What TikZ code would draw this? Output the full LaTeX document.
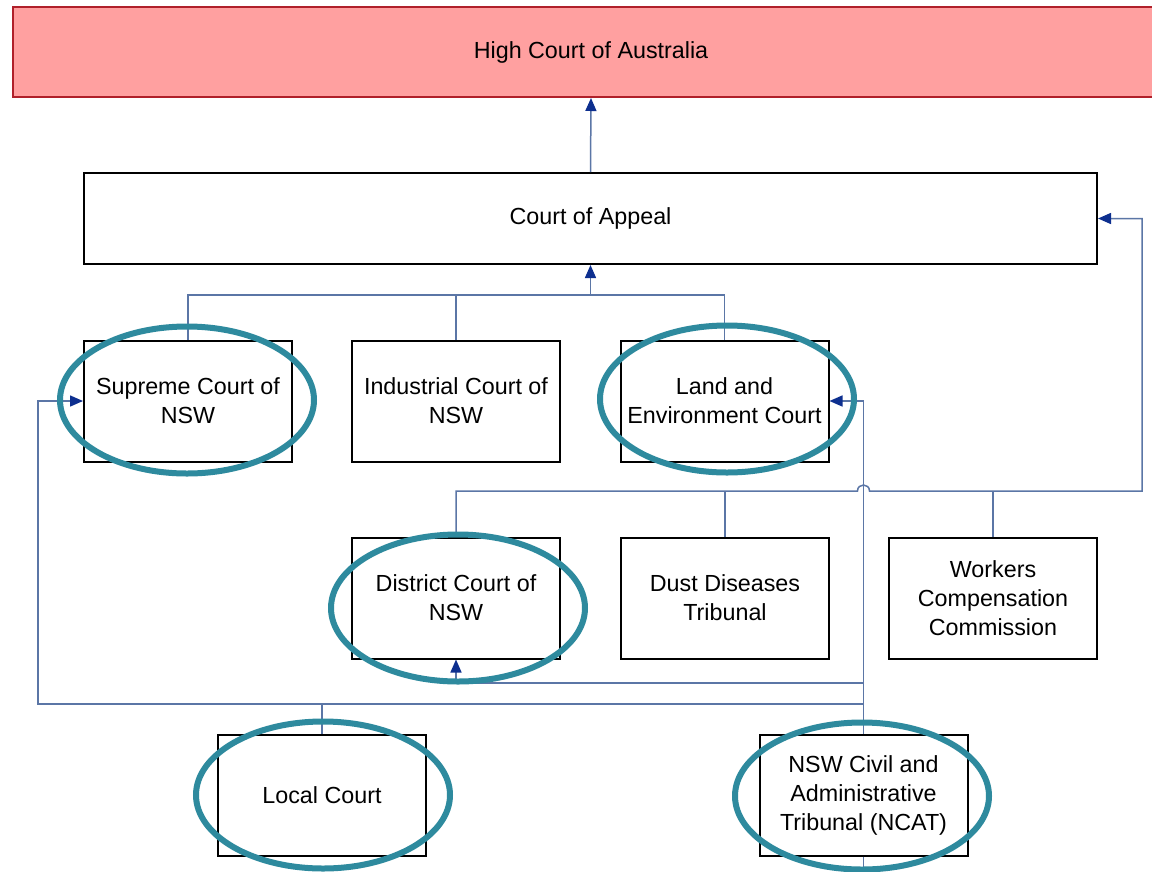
\documentclass[tikz,border=0pt]{standalone}
\usepackage{fontspec}
\setmainfont{Liberation Sans}
\usetikzlibrary{arrows.meta,shapes.geometric}
\definecolor{linec}{HTML}{5B76A6}
\definecolor{tipc}{HTML}{0D2F8F}
\definecolor{ringc}{HTML}{2E8A9E}
\definecolor{hcfill}{HTML}{FFA0A0}
\definecolor{hcdraw}{HTML}{B0202A}
\begin{document}
\begin{tikzpicture}[x=1pt,y=-1pt,
  court/.style={draw=black, line width=2pt, fill=white, minimum width=208pt, minimum height=121pt, align=center, inner sep=2pt, font=\fontsize{23.3}{29}\selectfont},
  link/.style={draw=linec, line width=1.5pt},
  tip/.style={-{Triangle[length=13pt,width=11pt,color=tipc]}},
  ring/.style={draw=ringc, line width=6pt, ellipse, minimum width=254pt, minimum height=147pt, inner sep=0pt}]
\useasboundingbox (0,0) rectangle (1152,871);
\fill[white] (0,0) rectangle (1152,871);
% boxes
\node[court, minimum width=1156pt, minimum height=90pt, fill=hcfill, draw=hcdraw] (hc) at (591,52) {High Court of Australia};
\node[court, minimum width=1013pt, minimum height=91pt] (coa) at (590.5,218.5) {Court of Appeal};
\node[court] (sup) at (188,401) {Supreme Court of\\NSW};
\node[court] (ind) at (456,401) {Industrial Court of\\NSW};
\node[court] (land) at (724.5,401) {Land and\\Environment Court};
\node[court] (dist) at (456,598) {District Court of\\NSW};
\node[court] (dust) at (725,598) {Dust Diseases\\Tribunal};
\node[court] (work) at (993,598) {Workers\\Compensation\\Commission};
\node[court] (loc) at (322,795) {Local Court};
\node[court] (ncat) at (863.5,795) {NSW Civil and\\Administrative\\Tribunal (NCAT)};
% coordinates
\coordinate (bus1) at (590.5,295);
\coordinate (bus2) at (1142,491);
\coordinate (j1) at (863.5,683);
\coordinate (j2) at (863.5,704);
\coordinate (lft) at (38,704);
\coordinate (bot) at (863.5,871);
% connectors
\draw[link,tip] (coa.north) -- (hc.south);
\draw[link,tip] (bus1) -- (coa.south);
\draw[link] (sup.north) |- (bus1) -| (land.north);
\draw[link] (ind.north) -- (ind.north |- bus1);
\draw[link,tip] (dist.north) |- (857.5,491) .. controls (857.5,483) and (869.5,483) .. (869.5,491) -- (bus2) |- (coa.east);
\draw[link] (dust.north) -- (dust.north |- bus2);
\draw[link] (work.north) -- (work.north |- bus2);
\draw[link,tip] (ncat.north) |- (land.east);
\draw[link] (ncat.south) -- (bot);
\draw[link,tip] (j1) -| (dist.south);
\draw[link,tip] (j2) -- (lft) |- (sup.west);
\draw[link] (loc.north) -- (loc.north |- j2);
% rings
\node[ring] (r1) at (187,400) {};
\node[ring] (r2) at (727,399) {};
\node[ring] (r3) at (458,608) {};
\node[ring] (r4) at (323,795) {};
\node[ring] (r5) at (862,796) {};
\end{tikzpicture}
\end{document}
